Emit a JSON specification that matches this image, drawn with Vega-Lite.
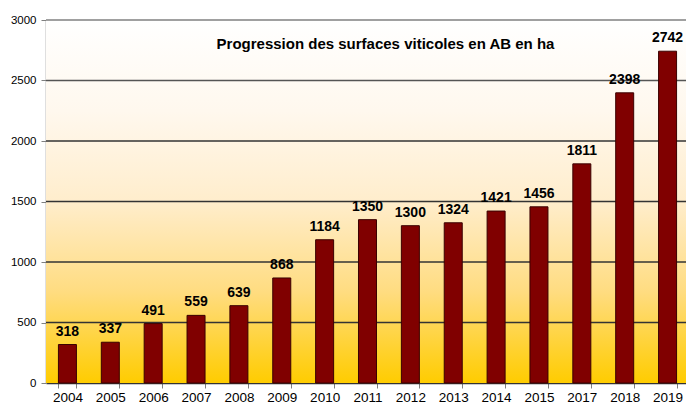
{
  "$schema": "https://vega.github.io/schema/vega-lite/v6.json",
  "width": 643,
  "height": 363,
  "autosize": {"type": "none"},
  "padding": {"left": 46, "top": 20, "right": 0, "bottom": 20},
  "background": "#ffffff",
  "config": {
    "view": {"stroke": null},
    "font": "Liberation Sans",
    "axis": {"labelFont": "Liberation Sans", "labelColor": "#000000"}
  },
  "title": {
    "text": "Progression des surfaces viticoles en AB en ha",
    "font": "Liberation Sans",
    "fontSize": 15,
    "fontWeight": "bold",
    "color": "#000000",
    "anchor": "middle",
    "dx": 18,
    "offset": -38
  },
  "datasets": {
    "bars": [
      {"annee": "2004", "surface": 318},
      {"annee": "2005", "surface": 337},
      {"annee": "2006", "surface": 491},
      {"annee": "2007", "surface": 559},
      {"annee": "2008", "surface": 639},
      {"annee": "2009", "surface": 868},
      {"annee": "2010", "surface": 1184},
      {"annee": "2011", "surface": 1350},
      {"annee": "2012", "surface": 1300},
      {"annee": "2013", "surface": 1324},
      {"annee": "2014", "surface": 1421},
      {"annee": "2015", "surface": 1456},
      {"annee": "2017", "surface": 1811},
      {"annee": "2018", "surface": 2398},
      {"annee": "2019", "surface": 2742}
    ],
    "grid": [
      {"v": 500, "c": "dark"}, {"v": 1000, "c": "dark"}, {"v": 1500, "c": "dark"},
      {"v": 2000, "c": "dark"}, {"v": 2500, "c": "mid"}, {"v": 3000, "c": "light"}
    ],
    "bg": [{"lo": 0, "hi": 3000}]
  },
  "layer": [
    {
      "data": {"name": "bg"},
      "mark": {
        "type": "rect",
        "color": {
          "gradient": "linear", "x1": 0, "y1": 0, "x2": 0, "y2": 1,
          "stops": [
            {"offset": 0, "color": "#ffffff"},
            {"offset": 0.25, "color": "#fff8ee"},
            {"offset": 0.5, "color": "#ffedcc"},
            {"offset": 0.75, "color": "#ffdc80"},
            {"offset": 1, "color": "#ffcc00"}
          ]
        }
      },
      "encoding": {
        "y": {"field": "hi", "type": "quantitative", "scale": {"domain": [0, 3000]}},
        "y2": {"field": "lo"}
      }
    },
    {
      "data": {"name": "grid"},
      "mark": {"type": "rule", "strokeWidth": 1.3},
      "encoding": {
        "y": {"field": "v", "type": "quantitative"},
        "color": {
          "field": "c", "type": "nominal", "legend": null,
          "scale": {"domain": ["dark", "mid", "light"], "range": ["#333333", "#555555", "#808080"]}
        }
      }
    },
    {
      "data": {"name": "bars"},
      "mark": {"type": "bar", "fill": "#800000", "stroke": "#3a0000", "strokeWidth": 1},
      "encoding": {
        "x": {
          "field": "annee", "type": "ordinal",
          "scale": {"paddingInner": 0.58, "paddingOuter": 0.29},
          "axis": {
            "title": null, "labelAngle": 0, "labelFontSize": 13.5, "labelPadding": 2,
            "tickBand": "extent", "tickColor": "#808080", "tickSize": 5,
            "domainColor": "#333333", "domainWidth": 1.3
          }
        },
        "y": {
          "field": "surface", "type": "quantitative",
          "scale": {"domain": [0, 3000]},
          "axis": {
            "title": null, "values": [0, 500, 1000, 1500, 2000, 2500, 3000], "format": "d",
            "grid": false, "labelFontSize": 11.5, "labelPadding": 5,
            "tickColor": "#808080", "tickSize": 5,
            "domainColor": "#808080", "domainWidth": 1.5
          }
        }
      }
    },
    {
      "data": {"name": "bars"},
      "mark": {"type": "text", "fontWeight": "bold", "fontSize": 14, "baseline": "bottom", "dy": -6, "color": "#000000", "font": "Liberation Sans"},
      "encoding": {
        "x": {"field": "annee", "type": "ordinal"},
        "y": {"field": "surface", "type": "quantitative"},
        "text": {"field": "surface", "type": "quantitative"}
      }
    }
  ]
}
